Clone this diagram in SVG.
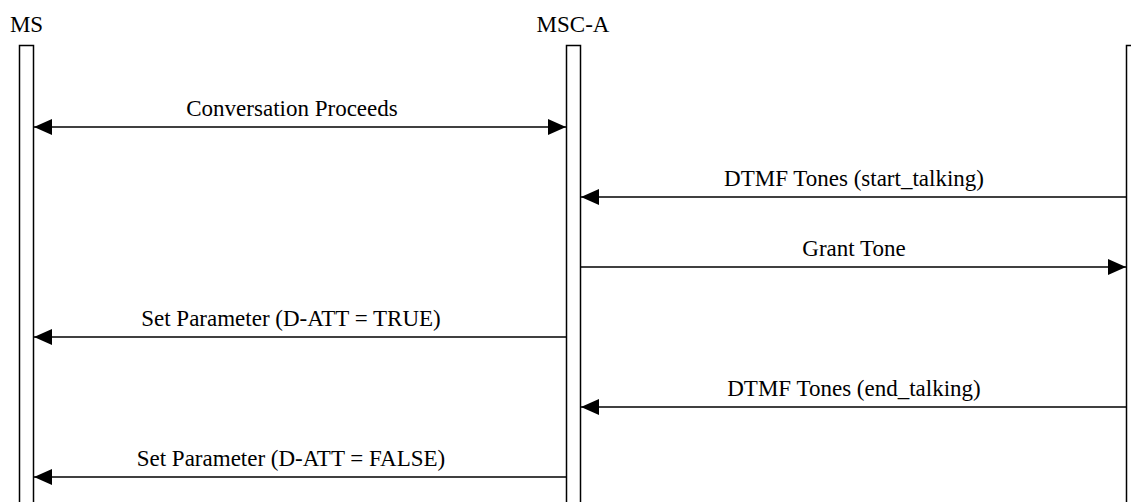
<svg xmlns="http://www.w3.org/2000/svg" width="1131" height="502" viewBox="0 0 1131 502">
<style>
text{font-family:"Liberation Serif","Times New Roman",serif;font-size:23px;fill:#000}
.life{fill:#fff;stroke:#000;stroke-width:1.5}
.msg{stroke:#000;stroke-width:1.3;fill:none}
</style>
<defs>
<marker id="ah" markerWidth="18" markerHeight="16" refX="18" refY="8" orient="auto-start-reverse" markerUnits="userSpaceOnUse">
<path d="M0,0 L18,8 L0,16 Z" fill="#000"/>
</marker>
</defs>
<rect width="1131" height="502" fill="#fff"/>
<g id="node-ms">
<text x="26.5" y="32" text-anchor="middle">MS</text>
<rect class="life" x="19.5" y="45.5" width="14" height="470"/>
</g>
<g id="node-msca">
<text x="573" y="32" text-anchor="middle">MSC-A</text>
<rect class="life" x="566.5" y="45.5" width="14" height="470"/>
</g>
<g id="node-right">
<rect class="life" x="1126.5" y="45.5" width="14" height="470"/>
</g>
<g id="connectors">
<line class="msg" x1="34" y1="127" x2="566" y2="127" marker-start="url(#ah)" marker-end="url(#ah)"/>
<text x="292" y="116" text-anchor="middle">Conversation Proceeds</text>
<line class="msg" x1="1126" y1="197" x2="581" y2="197" marker-end="url(#ah)"/>
<text x="854" y="186" text-anchor="middle">DTMF Tones (start_talking)</text>
<line class="msg" x1="581" y1="267" x2="1126" y2="267" marker-end="url(#ah)"/>
<text x="854" y="256" text-anchor="middle">Grant Tone</text>
<line class="msg" x1="566" y1="337" x2="34" y2="337" marker-end="url(#ah)"/>
<text x="291" y="326" text-anchor="middle">Set Parameter (D-ATT = TRUE)</text>
<line class="msg" x1="1126" y1="407" x2="581" y2="407" marker-end="url(#ah)"/>
<text x="854" y="396" text-anchor="middle">DTMF Tones (end_talking)</text>
<line class="msg" x1="566" y1="477" x2="34" y2="477" marker-end="url(#ah)"/>
<text x="291" y="466" text-anchor="middle">Set Parameter (D-ATT = FALSE)</text>
</g>
</svg>
